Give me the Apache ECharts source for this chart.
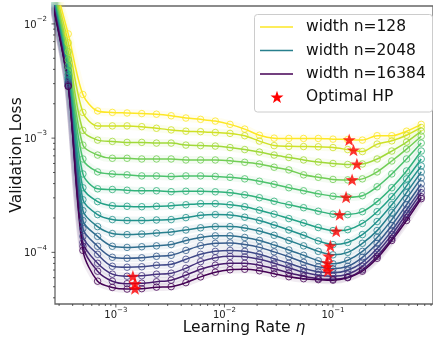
<!DOCTYPE html>
<html>
<head>
<meta charset="utf-8">
<script src="https://cdn.jsdelivr.net/npm/echarts@6/dist/echarts.min.js"></script>
<style>
  html, body { margin: 0; padding: 0; background: #ffffff; }
  #chart { width: 433px; height: 341px; }
</style>
</head>
<body>
<div id="chart"></div>
<script>
// Learning-rate sweep (x values shared by every width)
const learningRate = [2.66e-4, 3.64e-4, 4.97e-4, 6.79e-4, 9.28e-4, 1.268e-3, 1.732e-3, 2.366e-3,
  3.232e-3, 4.416e-3, 6.03e-3, 8.24e-3, 1.126e-2, 1.538e-2, 2.10e-2, 2.87e-2, 3.92e-2, 5.36e-2,
  7.32e-2, 0.100, 0.1366, 0.1866, 0.255, 0.348, 0.476, 0.650];

// Network widths, narrowest to widest
const widths = [128, 181, 256, 362, 512, 724, 1024, 1448, 2048, 2896, 4096, 5793, 8192, 11585, 16384];

// Validation loss per width, one value per learning rate
const lossN128 = [2.42e-2, 8.18e-3, 2.41e-3, 1.73e-3, 1.68e-3, 1.66e-3, 1.64e-3, 1.62e-3, 1.57e-3, 1.50e-3, 1.46e-3, 1.41e-3, 1.32e-3, 1.20e-3, 1.06e-3, 1.00e-3, 9.94e-4, 9.94e-4, 9.94e-4, 9.80e-4, 9.71e-4, 9.61e-4, 1.05e-3, 1.05e-3, 1.15e-3, 1.32e-3];
const lossN181 = [2.23e-2, 6.84e-3, 1.68e-3, 1.28e-3, 1.28e-3, 1.28e-3, 1.26e-3, 1.22e-3, 1.18e-3, 1.15e-3, 1.14e-3, 1.12e-3, 1.10e-3, 1.05e-3, 9.42e-4, 8.60e-4, 8.47e-4, 8.44e-4, 8.40e-4, 8.27e-4, 7.94e-4, 7.63e-4, 8.87e-4, 9.47e-4, 1.06e-3, 1.24e-3];
const lossN256 = [2.06e-2, 5.71e-3, 1.17e-3, 9.61e-4, 9.36e-4, 9.18e-4, 9.18e-4, 9.05e-4, 9.05e-4, 8.69e-4, 8.60e-4, 8.52e-4, 8.27e-4, 7.94e-4, 7.55e-4, 7.11e-4, 6.77e-4, 6.44e-4, 6.18e-4, 6.00e-4, 5.88e-4, 5.94e-4, 6.57e-4, 7.71e-4, 9.23e-4, 1.15e-3];
const lossN362 = [1.94e-2, 4.86e-3, 8.69e-4, 7.11e-4, 6.66e-4, 6.66e-4, 6.57e-4, 6.57e-4, 6.57e-4, 6.44e-4, 6.44e-4, 6.44e-4, 6.35e-4, 6.14e-4, 5.94e-4, 5.56e-4, 5.27e-4, 4.77e-4, 4.54e-4, 4.35e-4, 4.31e-4, 4.40e-4, 5.06e-4, 6.31e-4, 8.02e-4, 1.04e-3];
const lossN512 = [1.82e-2, 4.31e-3, 6.57e-4, 5.06e-4, 4.86e-4, 4.77e-4, 4.67e-4, 4.67e-4, 4.62e-4, 4.67e-4, 4.67e-4, 4.62e-4, 4.54e-4, 4.40e-4, 4.19e-4, 3.94e-4, 3.68e-4, 3.46e-4, 3.26e-4, 3.10e-4, 3.04e-4, 3.13e-4, 3.75e-4, 4.86e-4, 6.57e-4, 9.05e-4];
const lossN724 = [1.75e-2, 3.90e-3, 4.86e-4, 3.60e-4, 3.55e-4, 3.50e-4, 3.46e-4, 3.46e-4, 3.40e-4, 3.43e-4, 3.42e-4, 3.39e-4, 3.33e-4, 3.19e-4, 3.01e-4, 2.80e-4, 2.61e-4, 2.46e-4, 2.29e-4, 2.16e-4, 2.14e-4, 2.27e-4, 2.78e-4, 3.68e-4, 5.16e-4, 7.71e-4];
const lossN1024 = [1.68e-2, 3.60e-3, 3.68e-4, 2.78e-4, 2.56e-4, 2.53e-4, 2.51e-4, 2.53e-4, 2.56e-4, 2.61e-4, 2.67e-4, 2.67e-4, 2.61e-4, 2.51e-4, 2.34e-4, 2.16e-4, 1.975e-4, 1.81e-4, 1.65e-4, 1.55e-4, 1.58e-4, 1.79e-4, 2.27e-4, 3.07e-4, 4.40e-4, 6.57e-4];
const lossN1448 = [1.62e-2, 3.39e-3, 2.89e-4, 2.14e-4, 1.935e-4, 1.90e-4, 1.90e-4, 1.92e-4, 1.935e-4, 2.015e-4, 2.11e-4, 2.14e-4, 2.12e-4, 2.03e-4, 1.90e-4, 1.735e-4, 1.57e-4, 1.41e-4, 1.26e-4, 1.17e-4, 1.22e-4, 1.43e-4, 1.86e-4, 2.61e-4, 3.82e-4, 5.71e-4];
const lossN2048 = [1.55e-2, 3.26e-3, 2.32e-4, 1.68e-4, 1.46e-4, 1.43e-4, 1.445e-4, 1.475e-4, 1.505e-4, 1.57e-4, 1.64e-4, 1.68e-4, 1.68e-4, 1.635e-4, 1.535e-4, 1.41e-4, 1.27e-4, 1.14e-4, 1.02e-4, 9.51e-5, 1.00e-4, 1.20e-4, 1.55e-4, 2.23e-4, 3.33e-4, 5.06e-4];
const lossN2896 = [1.52e-2, 3.13e-3, 1.90e-4, 1.38e-4, 1.13e-4, 1.105e-4, 1.12e-4, 1.14e-4, 1.17e-4, 1.27e-4, 1.35e-4, 1.395e-4, 1.395e-4, 1.35e-4, 1.27e-4, 1.16e-4, 1.05e-4, 9.42e-5, 8.44e-5, 7.94e-5, 8.52e-5, 1.02e-4, 1.35e-4, 1.935e-4, 2.95e-4, 4.49e-4];
const lossN4096 = [1.49e-2, 3.04e-3, 1.62e-4, 1.13e-4, 9.05e-5, 8.87e-5, 8.96e-5, 9.23e-5, 9.42e-5, 1.04e-4, 1.145e-4, 1.20e-4, 1.21e-4, 1.17e-4, 1.105e-4, 1.01e-4, 9.14e-5, 8.18e-5, 7.48e-5, 7.19e-5, 7.55e-5, 9.05e-5, 1.20e-4, 1.72e-4, 2.61e-4, 3.98e-4];
const lossN5793 = [1.46e-2, 2.98e-3, 1.38e-4, 9.61e-5, 7.55e-5, 7.41e-5, 7.48e-5, 7.71e-5, 7.86e-5, 8.69e-5, 9.61e-5, 1.02e-4, 1.04e-4, 1.02e-4, 9.61e-5, 8.78e-5, 8.02e-5, 7.26e-5, 6.77e-5, 6.63e-5, 6.97e-5, 8.18e-5, 1.08e-4, 1.55e-4, 2.36e-4, 3.60e-4];
const lossN8192 = [1.43e-2, 2.92e-3, 1.22e-4, 8.02e-5, 6.44e-5, 6.18e-5, 6.24e-5, 6.44e-5, 6.57e-5, 7.26e-5, 8.30e-5, 8.96e-5, 9.23e-5, 9.14e-5, 8.69e-5, 8.02e-5, 7.33e-5, 6.70e-5, 6.31e-5, 6.18e-5, 6.44e-5, 7.55e-5, 1.00e-4, 1.43e-4, 2.18e-4, 3.33e-4];
const lossN11585 = [1.41e-2, 2.87e-3, 1.13e-4, 6.84e-5, 5.59e-5, 5.32e-5, 5.37e-5, 5.53e-5, 5.71e-5, 6.31e-5, 7.11e-5, 7.71e-5, 8.02e-5, 8.02e-5, 7.71e-5, 7.19e-5, 6.63e-5, 6.18e-5, 5.88e-5, 5.82e-5, 6.06e-5, 7.04e-5, 9.23e-5, 1.32e-4, 2.015e-4, 3.07e-4];
const lossN16384 = [1.38e-2, 2.83e-3, 1.04e-4, 5.59e-5, 4.93e-5, 4.77e-5, 4.81e-5, 4.96e-5, 5.01e-5, 5.43e-5, 6.10e-5, 6.70e-5, 7.04e-5, 7.11e-5, 6.90e-5, 6.50e-5, 6.12e-5, 5.88e-5, 5.77e-5, 5.71e-5, 6.00e-5, 6.84e-5, 8.87e-5, 1.27e-4, 1.90e-4, 2.95e-4];

// Best learning rate and its loss for each width
const optimalLR = [0.141, 0.1545, 0.166, 0.150, 0.132, 0.1153, 0.1071, 0.0945, 0.0912, 0.0888, 0.0882, 0.0897, 1.435e-3, 1.498e-3, 1.50e-3];
const optimalLoss = [9.67e-4, 7.86e-4, 5.94e-4, 4.33e-4, 3.05e-4, 2.14e-4, 1.535e-4, 1.14e-4, 9.29e-5, 8.10e-5, 7.48e-5, 6.90e-5, 6.18e-5, 5.32e-5, 4.81e-5];

// Widths named in the legend
const legendWidths = [128, 2048, 16384];

// Visible axis ranges
const lrRange = [2.75e-4, 0.834];
const lossRange = [3.53e-5, 1.435e-2];

const curves = [lossN128, lossN181, lossN256, lossN362, lossN512, lossN724, lossN1024, lossN1448,
  lossN2048, lossN2896, lossN4096, lossN5793, lossN8192, lossN11585, lossN16384];

const FONT = '"DejaVu Sans", "Liberation Sans", sans-serif';
const X_MIN = Math.log10(lrRange[0]), X_MAX = Math.log10(lrRange[1]);
const Y_MIN = Math.log10(lossRange[0]), Y_MAX = Math.log10(lossRange[1]);

// viridis colour map
const VIRIDIS = ['#440154', '#482475', '#414487', '#355f8d', '#2a788e', '#21918c',
  '#22a884', '#44bf70', '#7ad151', '#bddf26', '#fde725'];
function hex(c) { return [1, 3, 5].map(i => parseInt(c.slice(i, i + 2), 16)); }
function viridis(t) {
  const s = Math.max(0, Math.min(1, t)) * 10;
  const i = Math.min(9, Math.floor(s));
  const f = s - i;
  const a = hex(VIRIDIS[i]), b = hex(VIRIDIS[i + 1]);
  const m = a.map((v, k) => Math.round(v + (b[k] - v) * f));
  return 'rgb(' + m.join(',') + ')';
}
const colors = widths.map((w, j) => viridis(1 - j / (widths.length - 1)));

const STAR = 'path://M0,-10 L2.35,-3.24 L9.51,-3.09 L3.8,1.24 L5.88,8.09 L0,4 L-5.88,8.09 L-3.8,1.24 L-9.51,-3.09 L-2.35,-3.24 Z';

const series = [];
curves.forEach((vals, j) => {
  const color = colors[j];
  const pts = learningRate.map((lr, i) => [Math.log10(lr), Math.log10(vals[i])]);
  // soft uncertainty band
  series.push({
    type: 'line', data: pts, smooth: 0.3, symbol: 'none', silent: true, z: 1,
    lineStyle: { color: color, width: 8, opacity: 0.075 }
  });
  series.push({
    type: 'line', name: 'width n=' + widths[j], data: pts, smooth: 0.3,
    symbol: 'circle', symbolSize: 6.5, showSymbol: true, silent: true, z: 2,
    lineStyle: { color: color, width: 1.5 },
    itemStyle: { color: 'rgba(0,0,0,0)', borderColor: color, borderWidth: 1, opacity: 0.8 }
  });
});

series.push({
  type: 'scatter', name: 'Optimal HP', silent: true, z: 5,
  symbol: STAR, symbolSize: 13, symbolKeepAspect: true,
  itemStyle: { color: '#ff0000' },
  data: optimalLR.map((lr, i) => [Math.log10(lr), Math.log10(optimalLoss[i])])
});

// log-axis ticks (major at decades, minor at 2..9)
const tickData = [];
for (let e = -5; e <= 0; e++) {
  for (let m = 1; m <= 9; m++) {
    const v = Math.log10(m) + e;
    if (v >= X_MIN && v <= X_MAX) tickData.push([v, Y_MIN, 0, m === 1 ? 1 : 0]);
    if (v >= Y_MIN && v <= Y_MAX) tickData.push([X_MIN, v, 1, m === 1 ? 1 : 0]);
  }
}
const tickRich = {
  b: { fontSize: 10, fontFamily: FONT, fill: '#222', color: '#222', lineHeight: 14, verticalAlign: 'bottom' },
  s: { fontSize: 7, fontFamily: FONT, fill: '#222', color: '#222', verticalAlign: 'top' }
};
series.push({
  type: 'custom', silent: true, z: 10, clip: false,
  data: tickData,
  renderItem: function (params, api) {
    const axis = api.value(2);
    const major = api.value(3) === 1;
    const len = major ? 3.5 : 2;
    const p = api.coord([api.value(0), api.value(1)]);
    const shape = axis === 0
      ? { x1: p[0], y1: p[1], x2: p[0], y2: p[1] + len }
      : { x1: p[0] - len, y1: p[1], x2: p[0], y2: p[1] };
    const children = [{ type: 'line', shape: shape, style: { stroke: '#333', lineWidth: 0.8 } }];
    if (major) {
      const exp = Math.round(axis === 0 ? api.value(0) : api.value(1));
      const text = '{b|10}{s|' + (exp < 0 ? '\u2212' : '') + Math.abs(exp) + '}';
      children.push({
        type: 'text',
        x: axis === 0 ? p[0] : p[0] - 8,
        y: axis === 0 ? p[1] + 2.5 : p[1] - 1,
        style: {
          text: text, rich: tickRich,
          align: axis === 0 ? 'center' : 'right',
          verticalAlign: axis === 0 ? 'top' : 'middle'
        }
      });
    }
    return { type: 'group', children: children };
  }
});

// legend box drawn as graphics
const LEG_X = 254.5, LEG_Y = 14.5;
const legendRows = legendWidths.map(w => ({ label: 'width n=' + w, color: colors[widths.indexOf(w)] }));
const graphic = [{
  type: 'rect', z: 100,
  shape: { x: LEG_X, y: LEG_Y, width: 178, height: 97.5, r: 3 },
  style: { fill: 'rgba(255,255,255,0.85)', stroke: '#cccccc', lineWidth: 1 }
}];
const rowY = [27, 50.5, 74, 97];
legendRows.forEach((r, i) => {
  graphic.push({ type: 'line', z: 101, shape: { x1: 260, y1: rowY[i], x2: 293, y2: rowY[i] },
    style: { stroke: r.color, lineWidth: 1.5 } });
  graphic.push({ type: 'text', z: 101, x: 306, y: rowY[i],
    style: { text: r.label, font: '15.5px ' + FONT, fill: '#111', align: 'left', verticalAlign: 'middle' } });
});
const starPts = [];
for (let k = 0; k < 10; k++) {
  const r = k % 2 === 0 ? 6.8 : 2.7;
  const a = -Math.PI / 2 + k * Math.PI / 5;
  starPts.push([277 + r * Math.cos(a), rowY[3] + 0.6 + r * Math.sin(a)]);
}
graphic.push({ type: 'polygon', z: 101, shape: { points: starPts }, style: { fill: '#ff0000' } });
graphic.push({ type: 'text', z: 101, x: 306, y: rowY[3],
  style: { text: 'Optimal HP', font: '15.5px ' + FONT, fill: '#111', align: 'left', verticalAlign: 'middle' } });

const chart = echarts.init(document.getElementById('chart'), null, { renderer: 'canvas' });
chart.setOption({
  animation: false,
  backgroundColor: '#ffffff',
  grid: { left: 55, top: 6, right: -5, bottom: 35, show: true, borderColor: '#666666', borderWidth: 1.3, backgroundColor: 'transparent' },
  xAxis: {
    type: 'value', min: X_MIN, max: X_MAX,
    name: 'Learning Rate {i|\u03b7}', nameLocation: 'middle', nameGap: 16,
    nameTextStyle: { fontFamily: FONT, fontSize: 15.5, color: '#111',
      rich: { i: { fontFamily: FONT, fontSize: 15.5, fontStyle: 'italic', color: '#111' } } },
    axisLine: { show: false }, axisTick: { show: false }, axisLabel: { show: false }, splitLine: { show: false }
  },
  yAxis: {
    type: 'value', min: Y_MIN, max: Y_MAX,
    name: 'Validation Loss', nameLocation: 'middle', nameGap: 30,
    nameTextStyle: { fontFamily: FONT, fontSize: 15.5, color: '#111' },
    axisLine: { show: false }, axisTick: { show: false }, axisLabel: { show: false }, splitLine: { show: false }
  },
  series: series,
  graphic: graphic
});
</script>
</body>
</html>
